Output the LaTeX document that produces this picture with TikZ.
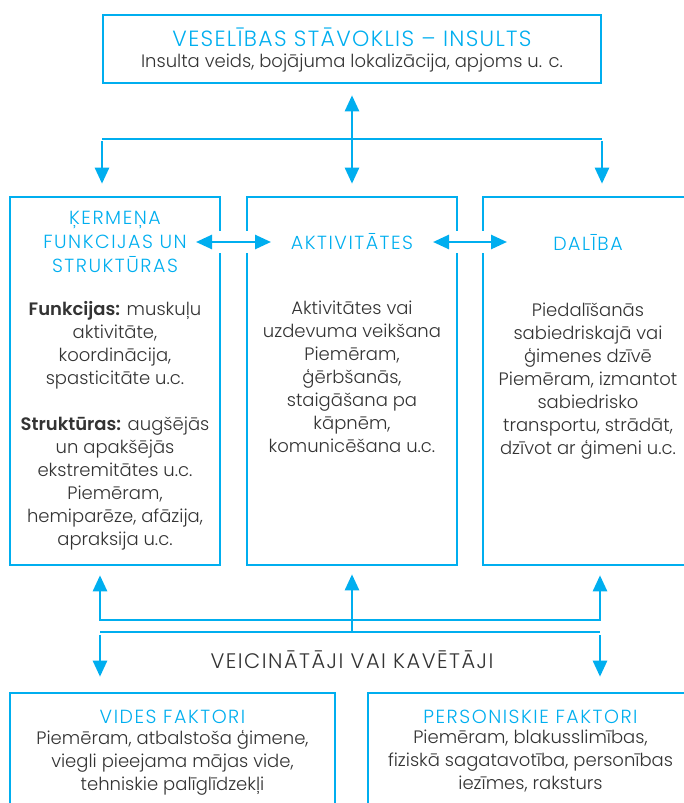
\documentclass[tikz,border=0pt]{standalone}
\usepackage{fontspec}
\setmainfont{Poppins}[UprightFont={* Light}]
\usetikzlibrary{arrows.meta,positioning}
\definecolor{icfblue}{HTML}{00AEEF}
\definecolor{icfgray}{HTML}{333333}

\begin{document}
\begin{tikzpicture}[x=1pt,y=-1pt,
    panel/.style={draw=icfblue, line width=2.6pt, rectangle, inner sep=0pt},
    head/.style={text=icfblue, align=center, inner sep=0pt, font=\fontsize{19}{24}\selectfont\addfontfeatures{LetterSpace=8}},
    txt/.style={text=icfgray, align=center, inner sep=0pt, font=\fontsize{18}{23}\selectfont},
    link/.style={draw=icfblue, line width=2.6pt},
    oneway/.style={link, -{Triangle[length=16pt,width=14pt]}},
    twoway/.style={link, {Triangle[length=16pt,width=14pt]}-{Triangle[length=16pt,width=14pt]}},
    halo/.style={preaction={draw=white, line width=22pt, -}}
  ]
                \useasboundingbox (0,0) rectangle (684,803);
                \clip (0,0) rectangle (684,803);

                %Boxes
                \node[panel, minimum width=498, minimum height=68]  (health) at (352,49)    {};
                \node[panel, minimum width=210, minimum height=368] (body)   at (115,381)   {};
                \node[panel, minimum width=210, minimum height=368] (act)    at (352,381)   {};
                \node[panel, minimum width=210, minimum height=368] (part)   at (588,381)   {};
                \node[panel, minimum width=325, minimum height=140] (env)    at (172.5,763) {};
                \node[panel, minimum width=325, minimum height=140] (pers)   at (530.5,763) {};

                %Texts
                \node[head, font=\fontsize{22}{24}\selectfont\addfontfeatures{LetterSpace=6}] (healthhead) at (352,37) {VESELĪBAS STĀVOKLIS – INSULTS};
                \node[txt] (healthtxt) at (352,63) {Insulta veids, bojājuma lokalizācija, apjoms u. c.};

                \node[head] (bodyhead) at (115,242) {ĶERMEŅA\\FUNKCIJAS UN\\STRUKTŪRAS};
                \node[head] (acthead)  at (352,242) {AKTIVITĀTES};
                \node[head] (parthead) at (588,242) {DALĪBA};

                \node[txt, anchor=north] (bodytxt) at (115,301) {\textbf{Funkcijas:} muskuļu\\aktivitāte,\\koordinācija,\\spasticitāte u.c.\\[23pt]\textbf{Struktūras:} augšējās\\un apakšējās\\ekstremitātes u.c.\\Piemēram,\\hemiparēze, afāzija,\\apraksija u.c.};
                \node[txt, anchor=north] (acttxt)  at (352,301) {Aktivitātes vai\\uzdevuma veikšana\\Piemēram,\\ģērbšanās,\\staigāšana pa\\kāpnēm,\\komunicēšana u.c.};
                \node[txt, anchor=north] (parttxt) at (588,303) {Piedalīšanās\\sabiedriskajā vai\\ģimenes dzīvē\\Piemēram, izmantot\\sabiedrisko\\transportu, strādāt,\\dzīvot ar ģimeni u.c.};

                \node[txt, font=\fontsize{21}{24}\selectfont\addfontfeatures{LetterSpace=7}] (factors) at (352,660) {VEICINĀTĀJI VAI KAVĒTĀJI};

                \node[head] (envhead)  at (172.5,717) {VIDES FAKTORI};
                \node[txt, anchor=north] (envtxt)  at (172.5,730) {Piemēram, atbalstoša ģimene,\\viegli pieejama mājas vide,\\tehniskie palīglīdzekļi};
                \node[head] (pershead) at (530.5,717) {PERSONISKIE FAKTORI};
                \node[txt, anchor=north] (perstxt) at (530.5,730) {Piemēram, blakusslimības,\\fiziskā sagatavotība, personības\\iezīmes, raksturs};

                %Points on the lines
                \coordinate (ta) at (102,139);
                \coordinate (tb) at (602,139);
                \coordinate (fa) at (100,620);
                \coordinate (fb) at (600,620);
                \coordinate (ga) at (100,632);
                \coordinate (gb) at (600,632);
                \coordinate (gm) at (352,632);

                %Lines
                \draw[twoway, shorten <=11, shorten >=12] (health) -- (act);
                \draw[link] (ta) -- (tb);
                \draw[oneway, shorten <=2, shorten >=12] (ta) -- (ta |- body.north);
                \draw[oneway, shorten <=2, shorten >=12] (tb) -- (tb |- part.north);

                \draw[twoway, halo, shorten <=81, shorten >=81] (bodyhead.center) -- (acthead.center);
                \draw[twoway, halo, shorten <=81, shorten >=81] (acthead.center) -- (parthead.center);

                \draw[twoway, shorten <=9, shorten >=9] (fa |- body.south) -- (fa) -- (fb) -- (fb |- part.south);
                \draw[link] (ga) -- (gb);
                \draw[oneway, shorten >=8] (gm) -- (act.south);
                \draw[oneway, shorten <=3, shorten >=15] (ga) -- (ga |- env.north);
                \draw[oneway, shorten <=3, shorten >=15] (gb) -- (gb |- pers.north);
\end{tikzpicture}
\end{document}
